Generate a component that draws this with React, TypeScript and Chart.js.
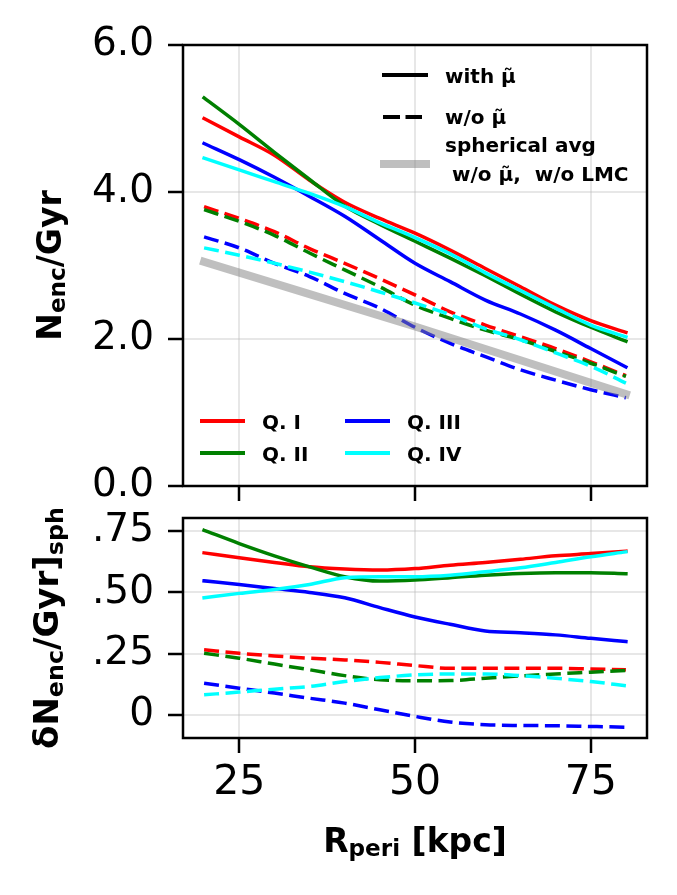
import React, { useEffect, useRef } from "react";
import { Chart, registerables } from "chart.js";

Chart.register(...registerables);

// ---------- data ----------
const R_PERI = [20, 25, 30, 35, 40, 45, 50, 55, 60, 65, 70, 75, 80];

// top panel: N_enc / Gyr
const Q1_WITH = [5.0, 4.75, 4.5, 4.16, 3.86, 3.64, 3.44, 3.21, 2.96, 2.71, 2.46, 2.25, 2.09];
const Q2_WITH = [5.28, 4.92, 4.54, 4.17, 3.81, 3.56, 3.33, 3.1, 2.86, 2.61, 2.37, 2.16, 1.97];
const Q3_WITH = [4.66, 4.44, 4.2, 3.94, 3.67, 3.35, 3.03, 2.78, 2.53, 2.34, 2.12, 1.87, 1.62];
const Q4_WITH = [4.46, 4.3, 4.14, 3.98, 3.8, 3.58, 3.38, 3.16, 2.9, 2.66, 2.42, 2.19, 2.03];

const Q1_WO = [3.8, 3.64, 3.46, 3.23, 3.03, 2.82, 2.6, 2.37, 2.19, 2.03, 1.87, 1.69, 1.5];
const Q2_WO = [3.76, 3.6, 3.41, 3.17, 2.94, 2.71, 2.46, 2.28, 2.12, 1.99, 1.83, 1.67, 1.49];
const Q3_WO = [3.39, 3.24, 3.03, 2.85, 2.62, 2.42, 2.16, 1.94, 1.76, 1.58, 1.44, 1.31, 1.2];
const Q4_WO = [3.24, 3.14, 3.03, 2.91, 2.78, 2.64, 2.49, 2.33, 2.14, 1.99, 1.81, 1.63, 1.4];

const SPH_X = [20, 35, 50, 65, 80];
const SPH_AVG = [3.05, 2.61, 2.17, 1.71, 1.25];

// bottom panel: delta N_enc / Gyr relative to spherical
const D_Q1_WITH = [0.661, 0.641, 0.622, 0.604, 0.595, 0.591, 0.597, 0.611, 0.622, 0.635, 0.649, 0.658, 0.668];
const D_Q2_WITH = [0.753, 0.699, 0.649, 0.604, 0.564, 0.546, 0.55, 0.56, 0.57, 0.577, 0.58, 0.58, 0.576];
const D_Q3_WITH = [0.547, 0.532, 0.516, 0.5, 0.478, 0.438, 0.4, 0.37, 0.343, 0.336, 0.327, 0.313, 0.3];
const D_Q4_WITH = [0.478, 0.496, 0.512, 0.532, 0.56, 0.564, 0.564, 0.57, 0.584, 0.6, 0.622, 0.645, 0.665];

const D_Q1_WO = [0.266, 0.252, 0.241, 0.232, 0.225, 0.215, 0.202, 0.191, 0.191, 0.191, 0.191, 0.188, 0.185];
const D_Q2_WO = [0.252, 0.232, 0.208, 0.185, 0.161, 0.144, 0.14, 0.141, 0.15, 0.16, 0.168, 0.175, 0.182];
const D_Q3_WO = [0.13, 0.11, 0.09, 0.069, 0.049, 0.022, -0.005, -0.028, -0.039, -0.042, -0.043, -0.046, -0.049];
const D_Q4_WO = [0.083, 0.094, 0.106, 0.117, 0.137, 0.153, 0.164, 0.168, 0.168, 0.161, 0.15, 0.137, 0.12];

const QUAD_NAMES = ["Q. I", "Q. II", "Q. III", "Q. IV"];
const QUAD_COLORS = ["#ff0000", "#008000", "#0000ff", "#00ffff"];

const X_TICKS = [25, 50, 75];
const TOP_Y_TICKS = [0, 2, 4, 6];
const BOT_Y_TICKS = [0, 0.25, 0.5, 0.75];
const BOT_Y_TICK_LABELS = ["0", ".25", ".50", ".75"];

const LEGEND_STYLE_LABELS = ["with \u03bc\u0303", "w/o \u03bc\u0303"];
const LEGEND_SPH_LABEL = ["spherical avg", " w/o \u03bc\u0303,  w/o LMC"];

// ---------- styling ----------
const FONT = "'DejaVu Sans', 'Liberation Sans', sans-serif";
const LW = 3.5;
const DASH = [15, 6.5];
const SPH_COLOR = "rgba(128,128,128,0.5)";
const GRID = {
  color: "rgba(176,176,176,0.3)",
  lineWidth: 2,
  tickColor: "#000",
  tickWidth: 2.5,
  tickLength: 15,
};

const pts = (xs: number[], ys: number[]) => xs.map((x, i) => ({ x, y: ys[i] }));

type Part = { t: string; sub?: boolean };

function drawRich(ctx: CanvasRenderingContext2D, parts: Part[], size: number, cx: number, baseY: number) {
  const big = `bold ${size}px ${FONT}`;
  const small = `bold ${size * 0.7}px ${FONT}`;
  let total = 0;
  const widths = parts.map((p) => {
    ctx.font = p.sub ? small : big;
    const w = ctx.measureText(p.t).width;
    total += w;
    return w;
  });
  let x = cx - total / 2;
  ctx.textAlign = "left";
  ctx.textBaseline = "alphabetic";
  ctx.fillStyle = "#000";
  parts.forEach((p, i) => {
    ctx.font = p.sub ? small : big;
    ctx.fillText(p.t, x, baseY + (p.sub ? size * 0.15 : 0));
    x += widths[i];
  });
}

const framePlugin = {
  id: "frame",
  afterDatasetsDraw(chart: any) {
    const { ctx, chartArea: a } = chart;
    ctx.save();
    ctx.strokeStyle = "#000";
    ctx.lineWidth = 2.5;
    ctx.strokeRect(a.left, a.top, a.right - a.left, a.bottom - a.top);
    ctx.restore();
  },
};

function lineSeries(data: { x: number; y: number }[], color: string, dashed: boolean, order: number) {
  return {
    data,
    borderColor: color,
    backgroundColor: color,
    borderWidth: LW,
    borderDash: dashed ? DASH : [],
    borderCapStyle: dashed ? "butt" : "square",
    borderJoinStyle: "round",
    pointRadius: 0,
    fill: false,
    cubicInterpolationMode: "monotone",
    order,
  };
}

const zeroPad = (s: any) => {
  s.paddingTop = 0;
  s.paddingBottom = 0;
  s.paddingLeft = 0;
  s.paddingRight = 0;
};

export default function App() {
  const topRef = useRef<HTMLCanvasElement>(null);
  const botRef = useRef<HTMLCanvasElement>(null);

  useEffect(() => {
    const WITH = [Q1_WITH, Q2_WITH, Q3_WITH, Q4_WITH];
    const WO = [Q1_WO, Q2_WO, Q3_WO, Q4_WO];
    const D_WITH = [D_Q1_WITH, D_Q2_WITH, D_Q3_WITH, D_Q4_WITH];
    const D_WO = [D_Q1_WO, D_Q2_WO, D_Q3_WO, D_Q4_WO];

    const xScale = (withLabels: boolean, height: number) => ({
      type: "linear",
      min: 17,
      max: 83,
      afterBuildTicks: (s: any) => {
        s.ticks = X_TICKS.map((v) => ({ value: v }));
      },
      afterFit: (s: any) => {
        s.height = height;
        zeroPad(s);
      },
      ticks: {
        display: withLabels,
        autoSkip: false,
        maxRotation: 0,
        minRotation: 0,
        color: "#000",
        font: { family: FONT, size: 41 },
        padding: 6,
        callback: (v: any) => String(v),
      },
      grid: GRID,
      border: { display: false },
    });

    const yScale = (min: number, max: number, ticks: number[], labelFn: (v: number) => string) => ({
      type: "linear",
      min,
      max,
      afterBuildTicks: (s: any) => {
        s.ticks = ticks.map((v) => ({ value: v }));
      },
      afterFit: (s: any) => {
        s.width = 183;
        zeroPad(s);
      },
      ticks: {
        color: "#000",
        font: { family: FONT, size: 39 },
        padding: 14,
        callback: (v: any) => labelFn(Number(v)),
      },
      grid: GRID,
      border: { display: false },
    });

    const topDatasets: any[] = [];
    WITH.forEach((arr, i) => topDatasets.push(lineSeries(pts(R_PERI, arr), QUAD_COLORS[i], false, 20 - i)));
    WO.forEach((arr, i) => topDatasets.push(lineSeries(pts(R_PERI, arr), QUAD_COLORS[i], true, 10 - i)));
    topDatasets.push({
      data: pts(SPH_X, SPH_AVG),
      borderColor: SPH_COLOR,
      borderWidth: 8,
      borderCapStyle: "square",
      pointRadius: 0,
      fill: false,
      tension: 0,
      order: 0,
    });

    const topLabelPlugin = {
      id: "topDecor",
      afterDraw(chart: any) {
        const { ctx, chartArea: a } = chart;
        ctx.save();
        ctx.translate(60.5, (a.top + a.bottom) / 2);
        ctx.rotate(-Math.PI / 2);
        drawRich(ctx, [{ t: "N" }, { t: "enc", sub: true }, { t: "/Gyr" }], 33, 0, 0);
        ctx.restore();

        ctx.save();
        ctx.strokeStyle = "#000";
        ctx.lineWidth = LW + 0.5;
        ctx.lineCap = "butt";
        ctx.beginPath();
        ctx.moveTo(382, 75);
        ctx.lineTo(428, 75);
        ctx.stroke();
        ctx.setLineDash([17, 5.5]);
        ctx.beginPath();
        ctx.moveTo(383, 117);
        ctx.lineTo(422, 117);
        ctx.stroke();
        ctx.setLineDash([]);
        ctx.strokeStyle = SPH_COLOR;
        ctx.lineWidth = 8;
        ctx.beginPath();
        ctx.moveTo(380, 164);
        ctx.lineTo(430, 164);
        ctx.stroke();
        ctx.fillStyle = "#000";
        ctx.font = `bold 20px ${FONT}`;
        ctx.textAlign = "left";
        ctx.textBaseline = "alphabetic";
        ctx.fillText(LEGEND_STYLE_LABELS[0], 445, 83);
        ctx.fillText(LEGEND_STYLE_LABELS[1], 445, 124);
        ctx.fillText(LEGEND_SPH_LABEL[0], 445, 152);
        ctx.fillText(LEGEND_SPH_LABEL[1], 445, 181);

        const pos = [
          [200, 421],
          [200, 453],
          [345, 421],
          [345, 453],
        ];
        QUAD_NAMES.forEach((name, i) => {
          const [x0, y0] = pos[i];
          ctx.strokeStyle = QUAD_COLORS[i];
          ctx.lineWidth = LW + 0.5;
          ctx.beginPath();
          ctx.moveTo(x0, y0);
          ctx.lineTo(x0 + 45, y0);
          ctx.stroke();
          ctx.fillStyle = "#000";
          ctx.fillText(name, x0 + 62, y0 + 7.5);
        });
        ctx.restore();
      },
    };

    const top = new Chart(topRef.current as HTMLCanvasElement, {
      type: "line",
      data: { datasets: topDatasets },
      options: {
        responsive: false,
        animation: false,
        events: [],
        layout: { padding: { top: 45, right: 30, left: 0, bottom: 0 } },
        plugins: { legend: { display: false }, tooltip: { enabled: false } },
        scales: {
          x: xScale(false, 19),
          y: yScale(0, 6, TOP_Y_TICKS, (v) => v.toFixed(1)),
        },
      } as any,
      plugins: [framePlugin, topLabelPlugin],
    });

    const botDatasets: any[] = [];
    D_WITH.forEach((arr, i) => botDatasets.push(lineSeries(pts(R_PERI, arr), QUAD_COLORS[i], false, 20 - i)));
    D_WO.forEach((arr, i) => botDatasets.push(lineSeries(pts(R_PERI, arr), QUAD_COLORS[i], true, 10 - i)));

    const botLabelPlugin = {
      id: "botDecor",
      afterDraw(chart: any) {
        const { ctx, chartArea: a } = chart;
        ctx.save();
        ctx.translate(58, (a.top + a.bottom) / 2);
        ctx.rotate(-Math.PI / 2);
        drawRich(
          ctx,
          [{ t: "\u03b4N" }, { t: "enc", sub: true }, { t: "/Gyr]" }, { t: "sph", sub: true }],
          34,
          0,
          0
        );
        ctx.restore();
        ctx.save();
        drawRich(ctx, [{ t: "R" }, { t: "peri", sub: true }, { t: " [kpc]" }], 33, (a.left + a.right) / 2, 346.5);
        ctx.restore();
      },
    };

    const bot = new Chart(botRef.current as HTMLCanvasElement, {
      type: "line",
      data: { datasets: botDatasets },
      options: {
        responsive: false,
        animation: false,
        events: [],
        layout: { padding: { top: 13, right: 30, left: 0, bottom: 0 } },
        plugins: { legend: { display: false }, tooltip: { enabled: false } },
        scales: {
          x: xScale(true, 157),
          y: yScale(-0.093, 0.803, BOT_Y_TICKS, (v) => {
            const i = BOT_Y_TICKS.indexOf(v);
            return i >= 0 ? BOT_Y_TICK_LABELS[i] : "";
          }),
        },
      } as any,
      plugins: [framePlugin, botLabelPlugin],
    });

    return () => {
      top.destroy();
      bot.destroy();
    };
  }, []);

  return (
    <div style={{ position: "absolute", left: 0, top: 0, width: 677, height: 895, background: "#fff" }}>
      <canvas ref={topRef} width={677} height={505} style={{ position: "absolute", left: 0, top: 0, display: "block" }} />
      <canvas ref={botRef} width={677} height={390} style={{ position: "absolute", left: 0, top: 505, display: "block" }} />
    </div>
  );
}
